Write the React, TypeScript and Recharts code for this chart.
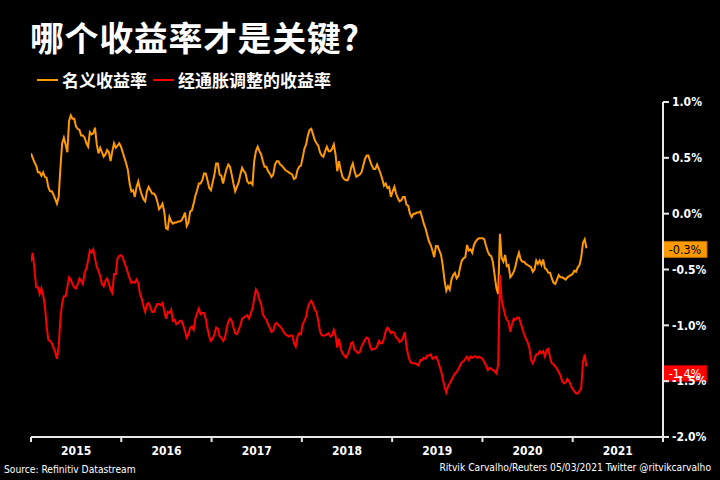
import React from 'react';
import { LineChart, Line, XAxis, YAxis, ReferenceLine, Legend } from 'recharts';

// weekly readings from the start of 2015 to early March 2021, in %
const nominal = [
  0.54, 0.50, 0.46, 0.43, 0.37, 0.37, 0.34, 0.37, 0.33, 0.32,
  0.24, 0.20, 0.20, 0.17, 0.13, 0.09, 0.15, 0.41, 0.63, 0.68,
  0.62, 0.55, 0.83, 0.88, 0.85, 0.85, 0.78, 0.76, 0.75, 0.70,
  0.70, 0.68, 0.63, 0.60, 0.73, 0.71, 0.72, 0.77, 0.62, 0.54,
  0.59, 0.55, 0.51, 0.53, 0.57, 0.55, 0.47, 0.56, 0.63, 0.59,
  0.61, 0.63, 0.60, 0.55, 0.50, 0.45, 0.39, 0.27, 0.20, 0.21,
  0.15, 0.24, 0.29, 0.22, 0.17, 0.13, 0.11, 0.20, 0.24, 0.21,
  0.18, 0.18, 0.16, 0.11, 0.04, 0.06, 0.09, 0.02, -0.13, -0.14,
  -0.03, -0.07, -0.09, -0.08, -0.08, -0.07, -0.07, -0.06, -0.03, 0.01,
  -0.11, -0.08, 0.02, 0.03, 0.09, 0.16, 0.21, 0.27, 0.27, 0.30,
  0.36, 0.36, 0.30, 0.23, 0.21, 0.28, 0.35, 0.45, 0.45, 0.35,
  0.34, 0.27, 0.34, 0.40, 0.44, 0.42, 0.35, 0.27, 0.20, 0.24,
  0.28, 0.35, 0.41, 0.38, 0.36, 0.29, 0.27, 0.28, 0.26, 0.47,
  0.56, 0.60, 0.56, 0.53, 0.47, 0.42, 0.42, 0.38, 0.36, 0.33,
  0.35, 0.44, 0.47, 0.47, 0.44, 0.43, 0.41, 0.39, 0.38, 0.37,
  0.36, 0.35, 0.31, 0.32, 0.39, 0.42, 0.43, 0.50, 0.58, 0.62,
  0.70, 0.75, 0.76, 0.71, 0.66, 0.63, 0.61, 0.55, 0.52, 0.51,
  0.56, 0.60, 0.56, 0.56, 0.58, 0.62, 0.53, 0.38, 0.47, 0.39,
  0.33, 0.31, 0.30, 0.30, 0.34, 0.41, 0.45, 0.38, 0.33, 0.34,
  0.35, 0.37, 0.43, 0.49, 0.52, 0.52, 0.47, 0.43, 0.40, 0.40,
  0.44, 0.40, 0.36, 0.31, 0.25, 0.27, 0.23, 0.24, 0.15, 0.20,
  0.24, 0.18, 0.14, 0.11, 0.12, 0.15, 0.15, 0.08, 0.07, 0.00,
  -0.03, 0.00, 0.00, 0.01, 0.01, 0.02, -0.03, -0.09, -0.13, -0.19,
  -0.25, -0.28, -0.33, -0.39, -0.29, -0.29, -0.33, -0.37, -0.47, -0.60,
  -0.69, -0.65, -0.68, -0.59, -0.55, -0.53, -0.58, -0.56, -0.48, -0.42,
  -0.40, -0.39, -0.28, -0.33, -0.32, -0.35, -0.28, -0.25, -0.23, -0.22,
  -0.22, -0.22, -0.23, -0.29, -0.34, -0.37, -0.38, -0.44, -0.56, -0.67,
  -0.72, -0.18, -0.40, -0.43, -0.37, -0.47, -0.46, -0.57, -0.55, -0.52,
  -0.47, -0.40, -0.35, -0.41, -0.43, -0.43, -0.45, -0.46, -0.47, -0.48,
  -0.52, -0.50, -0.42, -0.45, -0.42, -0.46, -0.41, -0.49, -0.50, -0.53,
  -0.53, -0.58, -0.62, -0.63, -0.59, -0.55, -0.57, -0.57, -0.58, -0.59,
  -0.57, -0.56, -0.55, -0.54, -0.51, -0.52, -0.48, -0.46, -0.39, -0.26,
  -0.23, -0.31,
];

const real = [
  -0.43, -0.35, -0.50, -0.66, -0.66, -0.72, -0.67, -0.73, -0.82, -1.00,
  -1.13, -1.14, -1.16, -1.20, -1.24, -1.30, -1.19, -0.94, -0.80, -0.74,
  -0.74, -0.66, -0.57, -0.59, -0.63, -0.66, -0.67, -0.63, -0.58, -0.60,
  -0.63, -0.53, -0.49, -0.42, -0.33, -0.35, -0.32, -0.40, -0.48, -0.51,
  -0.56, -0.63, -0.65, -0.60, -0.58, -0.63, -0.68, -0.71, -0.54, -0.54,
  -0.40, -0.38, -0.37, -0.39, -0.44, -0.48, -0.53, -0.58, -0.62, -0.61,
  -0.62, -0.59, -0.62, -0.72, -0.76, -0.83, -0.88, -0.81, -0.80, -0.84,
  -0.88, -0.88, -0.84, -0.81, -0.81, -0.82, -0.80, -0.87, -0.94, -0.88,
  -0.89, -0.86, -0.96, -0.95, -0.99, -0.98, -0.96, -0.96, -1.00, -1.05,
  -1.11, -1.08, -1.02, -1.01, -1.04, -0.94, -0.89, -0.85, -0.90, -0.89,
  -0.89, -0.94, -1.03, -1.10, -1.14, -1.12, -1.08, -1.02, -1.03, -1.10,
  -1.11, -1.14, -1.12, -1.03, -0.97, -0.94, -0.96, -1.02, -1.07, -1.08,
  -1.04, -1.00, -0.94, -0.93, -0.92, -0.91, -0.94, -0.89, -0.85, -0.76,
  -0.68, -0.71, -0.77, -0.81, -0.90, -0.93, -0.95, -0.99, -1.02, -1.06,
  -1.05, -0.99, -0.98, -1.00, -1.01, -1.03, -1.06, -1.08, -1.09, -1.10,
  -1.09, -1.09, -1.16, -1.19, -1.10, -1.07, -1.08, -0.99, -0.96, -0.92,
  -0.84, -0.80, -0.78, -0.81, -0.86, -0.88, -0.96, -1.05, -1.09, -1.09,
  -1.09, -1.08, -1.07, -1.10, -1.09, -1.04, -1.09, -1.20, -1.12, -1.21,
  -1.25, -1.27, -1.29, -1.26, -1.22, -1.16, -1.15, -1.22, -1.23, -1.25,
  -1.24, -1.19, -1.16, -1.13, -1.11, -1.12, -1.19, -1.22, -1.21, -1.21,
  -1.19, -1.14, -1.16, -1.16, -1.12, -1.05, -1.02, -1.04, -1.07, -1.06,
  -1.07, -1.11, -1.12, -1.15, -1.14, -1.11, -1.06, -1.19, -1.27, -1.32,
  -1.34, -1.34, -1.34, -1.35, -1.36, -1.31, -1.31, -1.29, -1.30, -1.27,
  -1.27, -1.26, -1.30, -1.29, -1.28, -1.31, -1.36, -1.41, -1.48, -1.55,
  -1.60, -1.55, -1.52, -1.49, -1.46, -1.43, -1.42, -1.39, -1.36, -1.33,
  -1.32, -1.30, -1.28, -1.31, -1.28, -1.29, -1.28, -1.28, -1.29, -1.28,
  -1.29, -1.30, -1.33, -1.36, -1.40, -1.38, -1.39, -1.40, -1.41, -1.43,
  -1.35, -0.55, -0.77, -0.84, -0.91, -0.95, -0.97, -1.06, -0.99, -0.94,
  -0.95, -0.93, -0.93, -0.98, -1.03, -1.08, -1.12, -1.15, -1.20, -1.31,
  -1.34, -1.30, -1.26, -1.26, -1.23, -1.25, -1.23, -1.28, -1.22, -1.21,
  -1.29, -1.34, -1.35, -1.37, -1.39, -1.42, -1.45, -1.50, -1.52, -1.51,
  -1.48, -1.50, -1.54, -1.57, -1.59, -1.61, -1.61, -1.59, -1.56, -1.33,
  -1.26, -1.37,
];

const years = [2015, 2016, 2017, 2018, 2019, 2020, 2021, 2022];
const yTicks = [-2, -1.5, -1, -0.5, 0, 0.5, 1];
const tagValues = [-0.32, -1.43];
const tagTexts = ['-0.3%', '-1.4%'];

const weeks = nominal.map((_, i) => 2015 + (i * 7) / 365.25);
const rows = weeks.map((t, i) => ({ t, nominal: nominal[i], real: real[i] }));

const W = 720;
const H = 480;
const LEFT = 31;
const RIGHT_AXIS = 57;
const HALF_YEAR = (W - LEFT - RIGHT_AXIS) / 7 / 2;
const NARROW = "'Liberation Sans Narrow', 'DejaVu Sans Condensed', sans-serif";
const CJK = "'Noto Sans CJK SC', sans-serif";
const ORANGE = '#ff9900';
const RED = '#ff0000';
const AXIS = '#e8e8e8';

const YearTick = (props: any) => {
  const { x, y, payload } = props;
  if (payload.value >= 2022) return null;
  return (
    <text x={x + HALF_YEAR} y={y} dy={11} textAnchor="middle" fill="#fff"
      fontSize={12} fontWeight={700} fontFamily={NARROW}>
      {payload.value}
    </text>
  );
};

const EndTag = (props: any) => {
  const { viewBox, text, fill, border, color } = props;
  if (!viewBox) return null;
  const x = viewBox.x + viewBox.width;
  const y = viewBox.y;
  return (
    <g>
      <rect x={x} y={y - 8} width={44} height={16} fill={fill} stroke={border} strokeWidth={1} />
      <text x={x + 22} y={y + 4.5} textAnchor="middle" fill={color}
        fontSize={12.5} fontFamily={NARROW}>{text}</text>
    </g>
  );
};

const LegendContent = (props: any) => (
  <div style={{ display: 'flex', alignItems: 'center', fontFamily: CJK, fontWeight: 700, fontSize: 17, color: '#fff', lineHeight: '20px' }}>
    {(props.payload || []).map((p: any) => (
      <span key={p.value} style={{ display: 'flex', alignItems: 'center', marginRight: 6 }}>
        <span style={{ display: 'inline-block', width: 21, height: 2, background: p.color, marginRight: 4 }} />
        {p.value}
      </span>
    ))}
  </div>
);

export default function App() {
  return (
    <div style={{ position: 'fixed', left: 0, top: 0, width: W, height: H, background: '#000', overflow: 'hidden' }}>
      <div style={{ position: 'absolute', left: 30, top: 20, fontFamily: CJK, fontWeight: 700, fontSize: 34, lineHeight: '34px', letterSpacing: 0.6, color: '#fff', whiteSpace: 'nowrap' }}>
        哪个收益率才是关键?
      </div>
      <LineChart width={W} height={H} data={rows} margin={{ top: 102, right: 0, bottom: 0, left: LEFT }}>
        <XAxis dataKey="t" type="number" domain={[2015, 2022]} ticks={years} allowDataOverflow
          height={43} axisLine={{ stroke: AXIS, strokeWidth: 2 }} tickLine={{ stroke: AXIS, strokeWidth: 2 }}
          tickSize={5} tick={<YearTick />} interval={0} />
        <YAxis orientation="right" domain={[-2, 1]} ticks={yTicks} width={RIGHT_AXIS} allowDataOverflow
          axisLine={{ stroke: AXIS, strokeWidth: 2 }} tickLine={{ stroke: AXIS, strokeWidth: 2 }} tickSize={6} tickMargin={3}
          tick={{ fill: '#fff', fontSize: 12, fontWeight: 700, fontFamily: NARROW }}
          tickFormatter={(v: number) => `${v.toFixed(1)}%`} />
        <Legend layout="horizontal" verticalAlign="middle" align="center" content={<LegendContent />}
          wrapperStyle={{ top: 70, left: 37, width: 'auto' }} />
        <Line dataKey="nominal" name="名义收益率" stroke={ORANGE} strokeWidth={2} dot={false} isAnimationActive={false} />
        <Line dataKey="real" name="经通胀调整的收益率" stroke={RED} strokeWidth={2} dot={false} isAnimationActive={false} />
        <ReferenceLine y={tagValues[0]} stroke="none" label={<EndTag text={tagTexts[0]} fill={ORANGE} border="#b36b00" color="#000" />} />
        <ReferenceLine y={tagValues[1]} stroke="none" label={<EndTag text={tagTexts[1]} fill={RED} border="#a00000" color="#fff" />} />
      </LineChart>
      <div style={{ position: 'absolute', left: 4, top: 464, fontFamily: NARROW, fontSize: 10.2, color: '#fff', whiteSpace: 'nowrap' }}>
        Source: Refinitiv Datastream
      </div>
      <div style={{ position: 'absolute', right: 9, top: 462, fontFamily: NARROW, fontSize: 10.2, color: '#fff', whiteSpace: 'nowrap' }}>
        Ritvik Carvalho/Reuters 05/03/2021 Twitter @ritvikcarvalho
      </div>
    </div>
  );
}
